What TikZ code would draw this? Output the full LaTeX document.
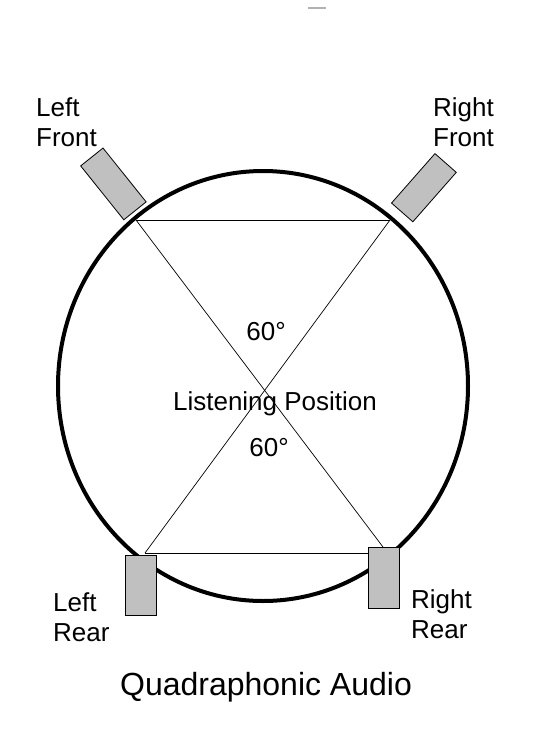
\documentclass[tikz,border=0pt]{standalone}
\usepackage{fontspec}
\setmainfont{Liberation Sans}
\definecolor{boxgray}{RGB}{192,192,192}
\tikzset{
  speaker/.style={draw,fill=boxgray,line width=0.8pt,inner sep=0pt},
  caption/.style={inner sep=0pt,font=\fontsize{26}{30}\selectfont},
  sidecaption/.style={caption,align=left,anchor=north west}
}
\begin{document}
\begin{tikzpicture}[x=1pt,y=-1pt]
\useasboundingbox (0,0) rectangle (552,734);

% The listening points
\coordinate (lf) at (136,220);
\coordinate (rf) at (390,220);
\coordinate (lr) at (145,553);
\coordinate (rr) at (383,547);

% The thin lines
\draw[line width=0.7pt] (lf) -- (rf);
\draw[line width=0.7pt] (lr) -- (rr |- lr);
\draw[line width=0.7pt] (lf) -- (rr);
\draw[line width=0.7pt] (rf) -- (lr);

% The circle
\draw[line width=4pt] (263,386) ellipse [x radius=205,y radius=215];

% The speakers
\node[speaker,minimum width=69pt,minimum height=28.6pt,rotate=-51.3] (lfbox) at (113.4,183.9) {};
\node[speaker,minimum width=65.8pt,minimum height=28.4pt,rotate=48.7] (rfbox) at (423.9,187.7) {};
\node[speaker,minimum width=31pt,minimum height=60pt] (lrbox) at (141.2,585) {};
\node[speaker,minimum width=31pt,minimum height=61pt] (rrbox) at (383.8,577.8) {};

% The labels
\node[sidecaption] (lftext) at (36,97.7) {Left\\Front};
\node[sidecaption] (rftext) at (433,97.7) {Right\\Front};
\node[sidecaption] (lrtext) at (53,592.7) {Left\\Rear};
\node[sidecaption] (rrtext) at (411,589.3) {Right\\Rear};

\node[caption,anchor=base] (upangle) at (266,340) {60°};
\node[caption,anchor=base] (listen) at (275,410) {Listening Position};
\node[caption,anchor=base] (downangle) at (269,456.7) {60°};

\node[inner sep=0pt,anchor=base,font=\fontsize{32}{38}\selectfont] (title) at (266,695) {Quadraphonic Audio};

\draw[gray!60,line width=1.2pt] (308,8) -- (326,8);
\end{tikzpicture}
\end{document}
